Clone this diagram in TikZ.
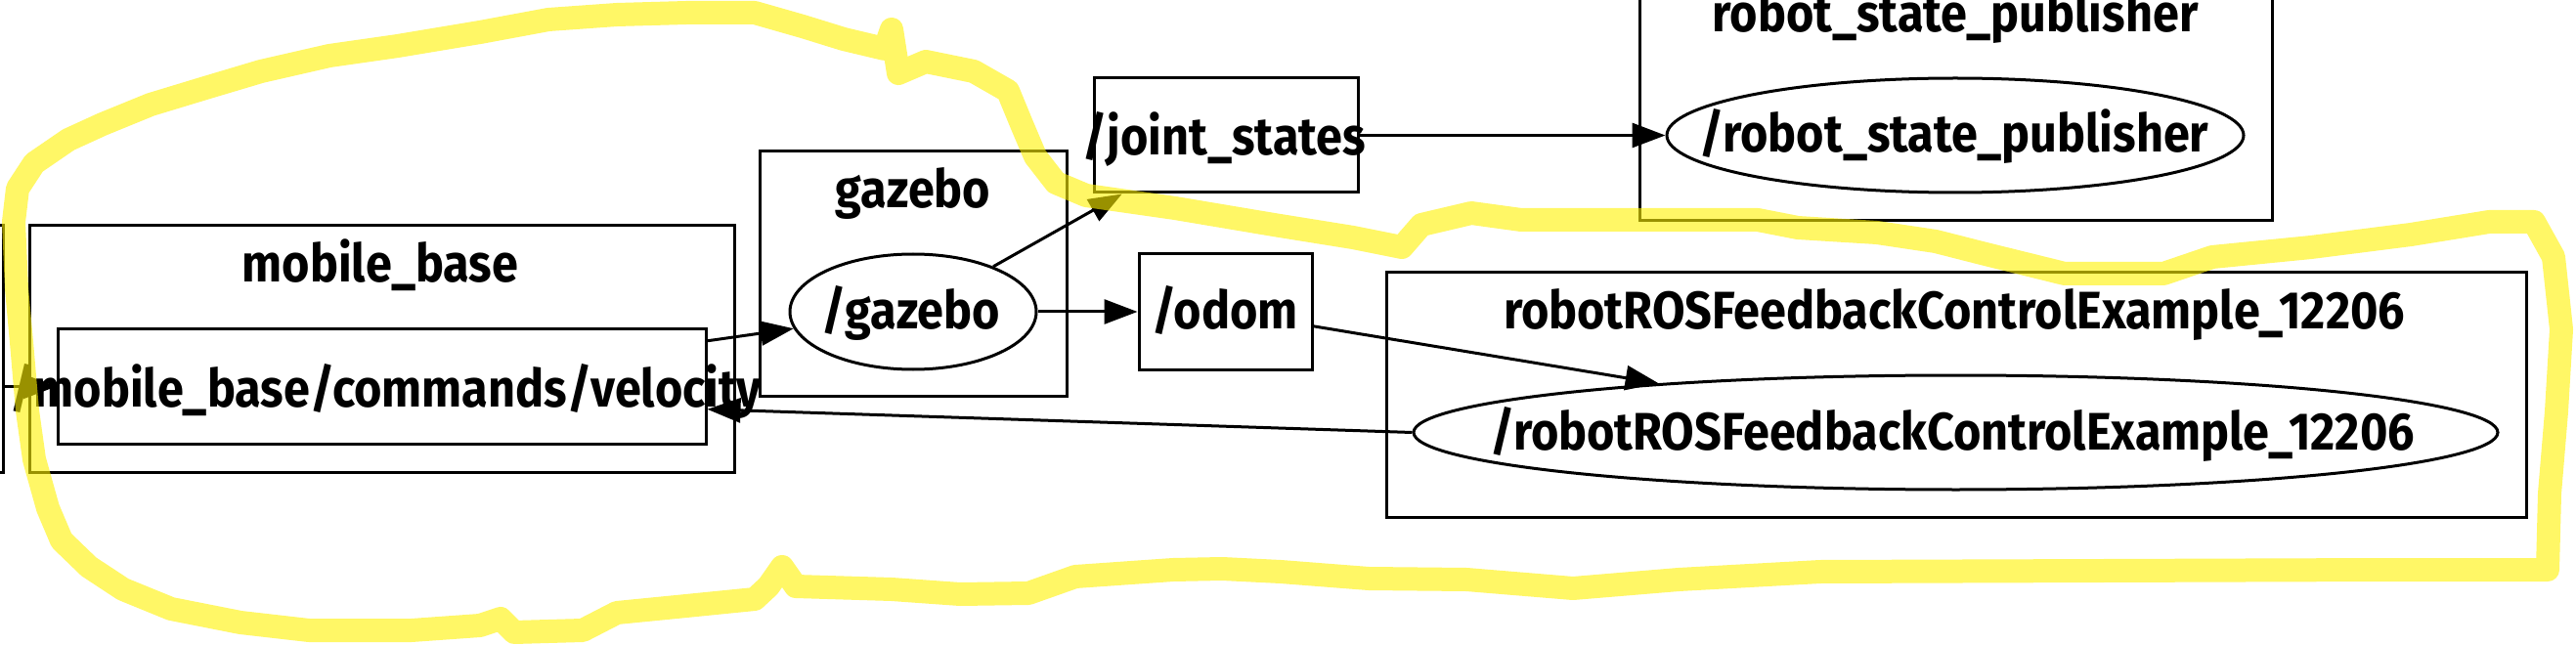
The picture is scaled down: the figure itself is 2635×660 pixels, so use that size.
\documentclass[tikz,border=0pt]{standalone}
\usepackage{fontspec}
\setmainfont{Fira Sans}[FakeStretch=0.9]
\usetikzlibrary{arrows.meta,shapes.geometric}
\begin{document}
\begin{tikzpicture}[x=1pt,y=-1pt,
  shapebox/.style={draw, rectangle, line width=3pt, inner sep=0pt},
  shapeell/.style={draw, ellipse, line width=3pt, inner sep=0pt},
  txt/.style={font=\fontsize{54}{58}\selectfont\bfseries, inner sep=0pt, anchor=base},
  edge/.style={line width=3pt, -{Triangle[length=34pt,width=25pt]}},
  hl/.style={draw=yellow, draw opacity=0.6, line width=24pt, line join=round, line cap=round}
]
\useasboundingbox (0,0) rectangle (2635,660);
\fill[white] (0,0) rectangle (2635,660);
\clip (0,0) rectangle (2635,660);

% clusters
\node[shapebox, minimum width=303pt, minimum height=252pt] (leftbox) at (-148.5,357) {};
\node[shapebox, minimum width=721pt, minimum height=252pt] (mbC) at (390.5,357) {};
\node[shapebox, minimum width=314pt, minimum height=250pt] (gzC) at (934,280) {};
\node[shapebox, minimum width=647pt, minimum height=251pt] (rspC) at (2000.5,100.5) {};
\node[shapebox, minimum width=1166pt, minimum height=250pt] (rosC) at (2001,404) {};

\node[txt] (mbL) at (389,289) {mobile\_base};
\node[txt] (gzL) at (934,213) {gazebo};
\node[txt] (rspL) at (2000,33) {robot\_state\_publisher};
\node[txt] (rosL) at (1999,337) {robotROSFeedbackControlExample\_12206};

% topics and nodes
\node[shapebox, minimum width=663pt, minimum height=117pt] (vel) at (390.5,395.5) {};
\node[shapebox, minimum width=270pt, minimum height=117pt] (js) at (1254,138.5) {};
\node[shapebox, minimum width=177pt, minimum height=118pt] (odom) at (1253.5,319) {};
\node[shapeell, minimum width=252pt, minimum height=118pt] (gz) at (934,319) {};
\node[shapeell, minimum width=590pt, minimum height=117pt] (rspE) at (2000,138.5) {};
\node[shapeell, minimum width=1109pt, minimum height=117pt] (rosE) at (2000.5,442.5) {};

\node[txt] (velT) at (395,416) {/mobile\_base/commands/velocity};
\node[txt] (jsT) at (1252,159) {/joint\_states};
\node[txt] (odomT) at (1253,337) {/odom};
\node[txt] (gzT) at (932,337) {/gazebo};
\node[txt] (rspT) at (1999,156) {/robot\_state\_publisher};
\node[txt] (rosT) at (1997,460) {/robotROSFeedbackControlExample\_12206};

% edges
\draw[edge] (leftbox.east |- vel) -- (vel.west);
\draw[edge] (vel) -- (gz);
\draw[edge] (gz) -- (js);
\draw[edge] (gz) -- (odom);
\draw[edge] (js) -- (rspE);
\draw[edge] (odom) -- (rosE);
\draw[edge] (rosE.west) -- (vel.-4);

% yellow highlight
\draw[hl] (14,227) -- (18,193) -- (35,167) -- (70,143) -- (105,127) -- (154,107) -- (210,90) -- (267,73) -- (337,57) -- (407,47) -- (491,33) -- (561,20) -- (631,15) -- (702,13) -- (772,13) -- (821,27) -- (863,40) -- (905,50) -- (912,30) -- (919,75) -- (947,63) -- (996,73) -- (1031,93) -- (1045,127) -- (1059,160) -- (1080,187) -- (1111,200) -- (1202,213) -- (1303,230) -- (1384,243) -- (1434,253) -- (1454,230) -- (1505,218) -- (1556,225) -- (1798,225) -- (1839,233) -- (1920,238) -- (1980,247) -- (2031,260) -- (2112,280) -- (2213,280) -- (2263,263) -- (2364,253) -- (2466,240) -- (2546,227) -- (2592,227) -- (2612,263) -- (2620,337) -- (2615,421) -- (2608,505) -- (2606,583) -- (2441,583) -- (1862,585) -- (1717,593) -- (1609,602) -- (1500,593) -- (1400,592) -- (1310,585) -- (1250,582) -- (1200,583) -- (1100,590) -- (1052,607) -- (982,608) -- (912,603) -- (814,600) -- (800,580) -- (786,600) -- (772,613) -- (702,620) -- (631,627) -- (596,645) -- (526,647) -- (512,633) -- (491,640) -- (421,645) -- (316,645) -- (246,637) -- (175,623) -- (126,603) -- (91,580) -- (63,553) -- (49,520) -- (35,470) -- (28,420) -- (22,350) -- (17,295) -- cycle;
\end{tikzpicture}
\end{document}
